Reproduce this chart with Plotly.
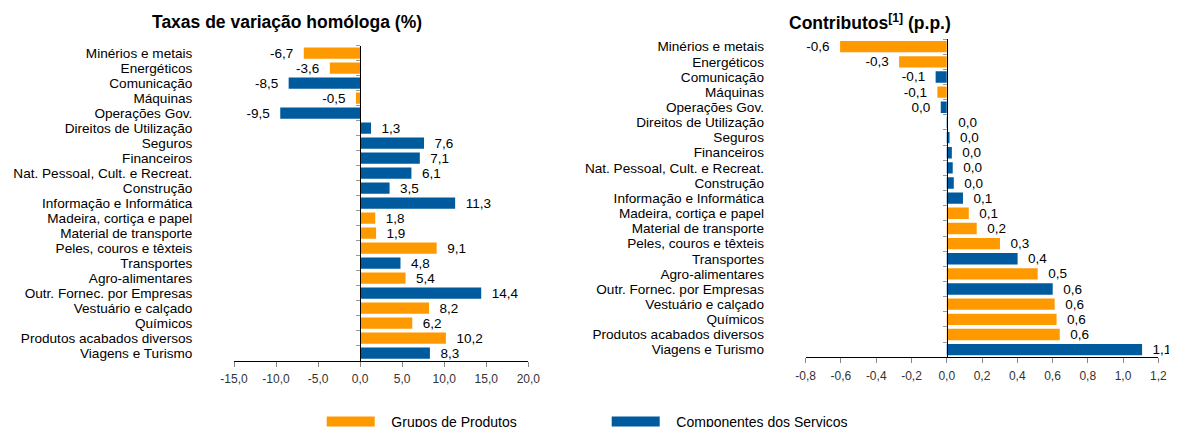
import plotly.graph_objects as go

# page body has an 8px margin: figure is sized to the visible window area
OFF = 8
W, H = 1177 - OFF, 427 - OFF

categories = ["Minérios e metais", "Energéticos", "Comunicação", "Máquinas", "Operações Gov.",
              "Direitos de Utilização", "Seguros", "Financeiros", "Nat. Pessoal, Cult. e Recreat.",
              "Construção", "Informação e Informática", "Madeira, cortiça e papel",
              "Material de transporte", "Peles, couros e têxteis", "Transportes", "Agro-alimentares",
              "Outr. Fornec. por Empresas", "Vestuário e calçado", "Químicos",
              "Produtos acabados diversos", "Viagens e Turismo"]
groups = ["P", "P", "S", "P", "S", "S", "S", "S", "S", "S", "S",
          "P", "P", "P", "S", "P", "S", "P", "P", "P", "S"]
taxas = [-6.7, -3.6, -8.5, -0.5, -9.5, 1.3, 7.6, 7.1, 6.1, 3.5, 11.3,
         1.8, 1.9, 9.1, 4.8, 5.4, 14.4, 8.2, 6.2, 10.2, 8.3]
contributos = [-0.605, -0.27, -0.063, -0.053, -0.034, 0.003, 0.016, 0.029, 0.034, 0.040, 0.092,
               0.125, 0.170, 0.302, 0.402, 0.516, 0.601, 0.612, 0.623, 0.641, 1.108]

group_names = {"P": "Grupos de Produtos", "S": "Componentes dos Serviços"}
group_colors = {"P": "#FF9900", "S": "#005A9E"}

left_tickvals = [-15, -10, -5, 0, 5, 10, 15, 20]
left_ticktext = ["-15,0", "-10,0", "-5,0", "0,0", "5,0", "10,0", "15,0", "20,0"]
right_tickvals = [-0.8, -0.6, -0.4, -0.2, 0.0, 0.2, 0.4, 0.6, 0.8, 1.0, 1.2]
right_ticktext = ["-0,8", "-0,6", "-0,4", "-0,2", "0,0", "0,2", "0,4", "0,6", "0,8", "1,0", "1,2"]

NB = "\u00a0"
FONT = "Liberation Sans, Arial"


def fx(p):
    return (p - OFF) / W


def fy(p):
    return 1 - (p - OFF) / H


def fmt(v):
    r = round(v, 1) + 0.0
    s = f"{r:.1f}".replace(".", ",")
    return NB * 2 + s if v >= 0 else s + NB * 2


fig = go.Figure()

for vals, xa, ya in [(taxas, "x", "y"), (contributos, "x2", "y2")]:
    for g in ["P", "S"]:
        idx = [i for i, gg in enumerate(groups) if gg == g]
        fig.add_trace(go.Bar(
            orientation="h",
            y=[categories[i] for i in idx],
            x=[vals[i] for i in idx],
            text=[fmt(vals[i]) for i in idx],
            textposition="outside",
            constraintext="none",
            cliponaxis=False,
            textfont=dict(family=FONT, size=13.5, color="#000"),
            marker=dict(color=group_colors[g], line=dict(width=0)),
            width=0.75,
            name=group_names[g],
            showlegend=False,
            xaxis=xa, yaxis=ya,
            hoverinfo="skip",
        ))

# legend entries
for g in ["P", "S"]:
    fig.add_trace(go.Scatter(
        x=[None], y=[None], mode="lines",
        line=dict(color=group_colors[g], width=13),
        name=NB * 3 + group_names[g], showlegend=True, xaxis="x", yaxis="y",
    ))

common_x = dict(showgrid=False, zeroline=False, showline=True, linecolor="#000", linewidth=1,
                ticks="outside", ticklen=5, tickcolor="#888", ticklabelstandoff=2,
                tickfont=dict(family=FONT, size=12, color="#333"))
common_y = dict(type="category", categoryorder="array", categoryarray=categories,
                autorange="reversed", showgrid=False, zeroline=False, showline=True,
                linecolor="#000", linewidth=1, ticks="outside", ticklen=4, tickcolor="#999",
                tickson="boundaries", anchor="free", tickmode="linear", tick0=0, dtick=1,
                tickfont=dict(family=FONT, size=13.6, color="#000"))

fig.update_layout(
    width=W, height=H,
    margin=dict(l=0, r=0, t=0, b=0, autoexpand=False),
    paper_bgcolor="#fff", plot_bgcolor="rgba(0,0,0,0)",
    barmode="relative",
    font=dict(family=FONT, color="#000"),
    xaxis=dict(domain=[fx(234), fx(528.3)], range=[-15, 20], tickvals=left_tickvals,
               ticktext=left_ticktext, anchor="y", **common_x),
    yaxis=dict(domain=[fy(360.5), fy(45.5)], position=fx(360.1), ticklabelstandoff=165,
               **common_y),
    xaxis2=dict(domain=[fx(805.7), fx(1158.3)], range=[-0.8, 1.2], tickvals=right_tickvals,
                ticktext=right_ticktext, anchor="y2", **common_x),
    yaxis2=dict(domain=[fy(357.2), fy(39.1)], position=fx(946.7), ticklabelstandoff=180,
                **common_y),
    legend=dict(orientation="h", x=fx(326.7 - 5 + OFF) - OFF / W, xanchor="left",
                y=fy(422), yanchor="middle",
                entrywidth=222, entrywidthmode="pixels", itemwidth=48,
                font=dict(family=FONT, size=14, color="#000"),
                bgcolor="rgba(0,0,0,0)"),
    annotations=[
        dict(text="<b>Taxas de variação homóloga (%)</b>", x=fx(287), y=fy(22),
             xref="paper", yref="paper", xanchor="center", yanchor="middle", showarrow=False,
             font=dict(family=FONT, size=17.5, color="#000")),
        dict(text="<b>Contributos<sup>[1]</sup> (p.p.)</b>", x=fx(870), y=fy(22),
             xref="paper", yref="paper", xanchor="center", yanchor="middle", showarrow=False,
             font=dict(family=FONT, size=17.5, color="#000")),
    ],
)

fig.write_html("out.html")
